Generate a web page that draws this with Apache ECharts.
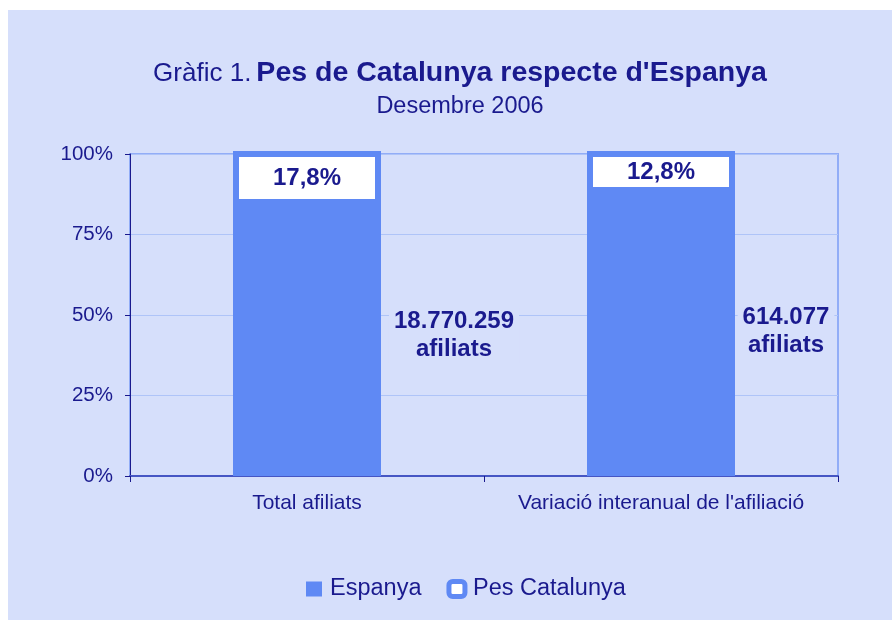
<!DOCTYPE html>
<html>
<head>
<meta charset="utf-8">
<script src="https://cdn.jsdelivr.net/npm/echarts@6/dist/echarts.min.js"></script>
<style>
  html, body { margin: 0; padding: 0; background: #ffffff; }
  #main { position: absolute; left: 8px; top: 10px; width: 884px; height: 610px; }
</style>
</head>
<body>
<div id="main"></div>
<script>
// dades del gràfic
var categories = ['Total afiliats', "Variació interanual de l'afiliació"];
var espanyaBar = [84.2, 87.9];      // part blava sota la caixa
var catalunyaBar = [16.7, 13.0];    // caixa blanca de dalt
var catalunyaLabels = ['17,8%', '12,8%'];
var espanyaLabels = ['18.770.259\nafiliats', '614.077\nafiliats'];
var yTicks = [0, 25, 50, 75, 100];

var navy = '#1A1A8E';
var blue = '#5F89F4';
var bg = '#D6DFFB';
var font = "'Liberation Sans', Arial, sans-serif";

// posicio de les etiquetes d'afiliats (a la dreta de cada barra)
var espanyaOffsets = [[147, -5], [125, -3]];

var chart = echarts.init(document.getElementById('main'), null, { renderer: 'canvas' });

var option = {
  backgroundColor: bg,
  animation: false,
  textStyle: { fontFamily: font },
  title: [{
    left: 447,
    top: 44,
    textAlign: 'center',
    text: "{r|Gràfic 1.} {b|Pes de Catalunya respecte d'Espanya}",
    textStyle: {
      rich: {
        r: { fontFamily: font, fontSize: 26, color: navy, fontWeight: 'normal' },
        b: { fontFamily: font, fontSize: 28.5, color: navy, fontWeight: 'bold' }
      }
    }
  }, {
    left: 447,
    top: 80,
    textAlign: 'center',
    text: 'Desembre 2006',
    textStyle: { fontFamily: font, fontSize: 23.5, color: navy, fontWeight: 'normal' }
  }],
  legend: {
    left: 298,
    top: 567,
    padding: 0,
    itemWidth: 16,
    itemHeight: 15,
    itemGap: 25,
    textStyle: { fontFamily: font, fontSize: 23.5, color: navy, padding: [0, 0, 0, 3] },
    data: [
      { name: 'Espanya', icon: 'rect', itemStyle: { color: blue, borderWidth: 0 } },
      { name: 'Pes Catalunya', icon: 'roundRect', itemStyle: { color: '#ffffff', borderColor: blue, borderWidth: 5 } }
    ]
  },
  grid: {
    left: 122,
    right: 54,
    top: 144,
    bottom: 144,
    show: true,
    borderColor: '#92ADF7',
    borderWidth: 2,
    backgroundColor: 'transparent'
  },
  xAxis: {
    type: 'category',
    data: categories,
    axisLine: { lineStyle: { color: '#4656C4', width: 2 } },
    axisTick: { show: true, interval: 0, length: 6, lineStyle: { color: navy, width: 1 } },
    axisLabel: { interval: 0, margin: 17, fontFamily: font, fontSize: 21, color: navy }
  },
  yAxis: {
    type: 'value',
    min: yTicks[0],
    max: yTicks[yTicks.length - 1],
    interval: 25,
    axisLine: { show: true, lineStyle: { color: navy, width: 1 } },
    axisTick: { show: true, length: 5, lineStyle: { color: navy } },
    axisLabel: { margin: 17, fontFamily: font, fontSize: 20.5, color: navy, formatter: '{value}%' },
    splitLine: { lineStyle: { color: '#AFC4F8', width: 1 } }
  },
  series: [{
    name: 'Espanya',
    type: 'bar',
    stack: 'total',
    barWidth: 148,
    clip: false,
    itemStyle: { color: blue },
    data: espanyaBar.map(function (v, i) {
      return {
        value: v,
        label: {
          show: true,
          position: 'inside',
          offset: espanyaOffsets[i],
          formatter: espanyaLabels[i],
          fontFamily: font,
          fontSize: 24,
          fontWeight: 'bold',
          lineHeight: 28,
          color: navy,
          align: 'center',
          backgroundColor: bg,
          padding: [0, 5]
        }
      };
    })
  }, {
    name: 'Pes Catalunya',
    type: 'bar',
    stack: 'total',
    barWidth: 148,
    clip: false,
    itemStyle: { color: '#ffffff', borderColor: blue, borderWidth: 6 },
    label: {
      show: true,
      position: 'inside',
      formatter: function (p) { return catalunyaLabels[p.dataIndex]; },
      fontFamily: font,
      fontSize: 24,
      fontWeight: 'bold',
      color: navy
    },
    data: catalunyaBar
  }]
};

chart.setOption(option);
</script>
</body>
</html>
